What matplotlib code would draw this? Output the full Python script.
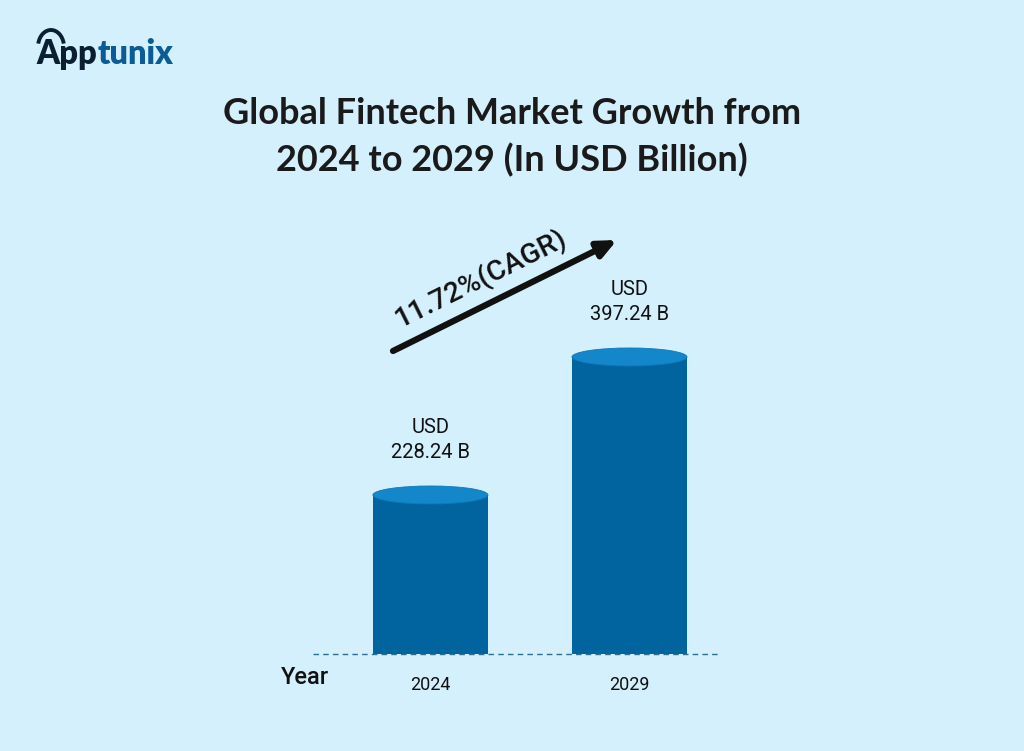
import numpy as np
import matplotlib
matplotlib.use("Agg")
import matplotlib.pyplot as plt
from matplotlib.patches import Ellipse, Arc

# chart data
years = ["2024", "2029"]
values = [228.24, 397.24]
value_labels = ["USD\n228.24 B", "USD\n397.24 B"]
cagr_text = "11.72%(CAGR)"
title = "Global Fintech Market Growth from\n2024 to 2029 (In USD Billion)"

# styling
bg = "#d4f0fd"
bar_body = "#01649f"
bar_top = "#1387ca"
dark = "#111111"
base = 33.5  # value at the dashed baseline

plt.rcParams['font.family'] = ['Lato', 'DejaVu Sans']

fig = plt.figure(figsize=(10.24, 7.51), dpi=100)
fig.patch.set_facecolor(bg)

ax = fig.add_axes([280 / 1024, 97 / 751, 480 / 1024, 454 / 751])
ax.set_facecolor(bg)
ax.set_xlim(-0.756, 1.656)
ax.set_ylim(base, base + 454 / 0.8166)
for s in ax.spines.values():
    s.set_visible(False)
ax.set_xticks([])
ax.set_yticks([])

x = np.arange(len(years))
width = 0.578
ax.bar(x, [v - base for v in values], bottom=base, width=width,
       color=bar_body, zorder=2)
ell_h = 18 / 0.8166
for xi, v in zip(x, values):
    ax.add_patch(Ellipse((xi, v), width, ell_h, facecolor=bar_top,
                         edgecolor="#0f78b8", lw=0.6, zorder=3))

# dashed baseline
ax.plot([-0.59, 1.45], [base, base], ls=(0, (4, 3)), color="#2a6f95",
        lw=1.0, zorder=4, clip_on=False)

# value labels
for xi, v, lab in zip(x, values, value_labels):
    ax.annotate(lab, (xi, v), xytext=(0, 24), textcoords="offset points",
                ha="center", va="bottom", fontsize=14.5, color=dark,
                linespacing=1.4, family=['Roboto', 'DejaVu Sans'])

# year labels
for xi, yr in zip(x, years):
    ax.annotate(yr, (xi, base), xytext=(0, -22), textcoords="offset points",
                ha="center", va="center", fontsize=13, color=dark,
                family=['Roboto', 'DejaVu Sans'])
fig.text(305 / 1024, 1 - 678 / 751, "Year", ha="center", va="center",
         fontsize=17, color=dark, fontweight="medium",
         family=['Roboto', 'DejaVu Sans'])

# CAGR arrow
ax.annotate("", xy=(617 / 1024, 1 - 240 / 751), xycoords="figure fraction",
            xytext=(393 / 1024, 1 - 351 / 751), textcoords="figure fraction",
            arrowprops=dict(arrowstyle="-|>,head_length=1.1,head_width=0.5",
                            color=dark, lw=4.5, shrinkA=0, shrinkB=0))
fig.text(481 / 1024, 1 - 278 / 751, cagr_text, rotation=26.4,
         rotation_mode="anchor", ha="center", va="center", fontsize=20.5,
         color=dark, fontweight="medium", family=['Roboto', 'DejaVu Sans'])

# title
fig.text(0.5, 1 - 137 / 751, title, ha="center", va="center",
         fontsize=26, fontweight="bold", color="#1a1a1a", linespacing=1.45)

# logo
fig.text(36 / 1024, 1 - 54 / 751, "App", ha="left", va="center",
         fontsize=23.5, fontweight="heavy", color="#0b1e33")
fig.text(98 / 1024, 1 - 54 / 751, "tunix", ha="left", va="center",
         fontsize=23.5, fontweight="heavy", color="#0a5c97")
fig.add_artist(Arc((51 / 1024, 1 - 47 / 751), 26 / 1024, 34 / 751,
                   theta1=20, theta2=160, transform=fig.transFigure,
                   color="#0b1e33", lw=2.8))

fig.savefig("out.png", dpi=100, facecolor=bg)
